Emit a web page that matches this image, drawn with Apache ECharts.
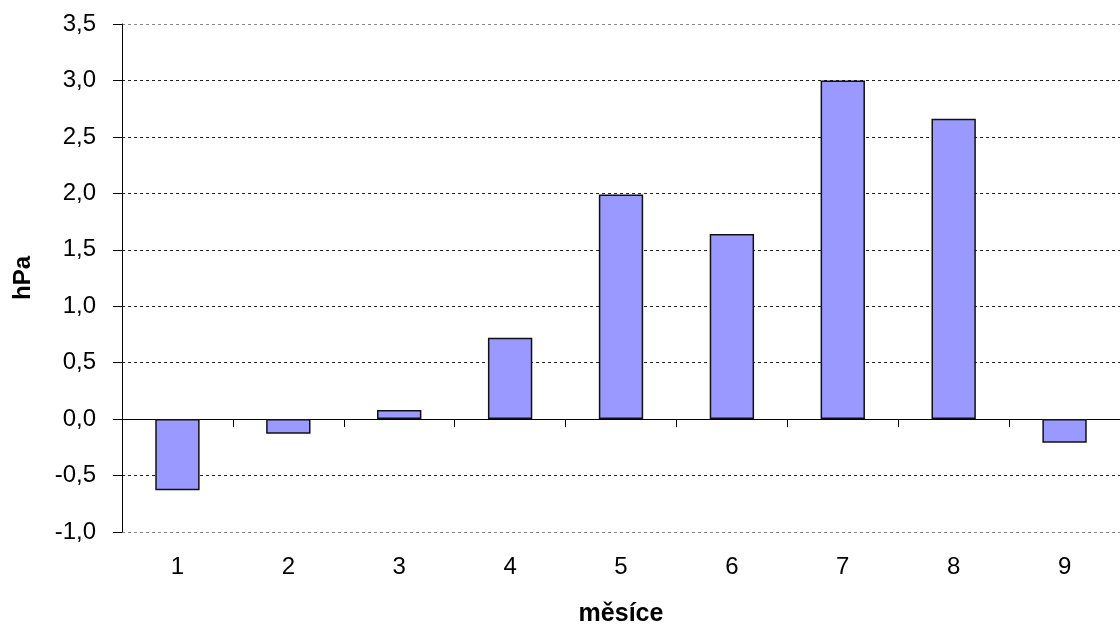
<!DOCTYPE html>
<html>
<head>
<meta charset="utf-8">
<script src="https://cdn.jsdelivr.net/npm/echarts@6/dist/echarts.min.js"></script>
<style>
html,body{margin:0;padding:0;background:#fff;}
#chart{width:1120px;height:632px;}
</style>
</head>
<body>
<div id="chart"></div>
<script>
const categories = ['1','2','3','4','5','6','7','8','9'];
const values = [-0.63, -0.13, 0.08, 0.72, 1.99, 1.64, 3.0, 2.66, -0.21];
const xName = 'měsíce';
const yName = 'hPa';

const chart = echarts.init(document.getElementById('chart'), null, {renderer:'canvas'});
const font = 'Liberation Sans, Arial, sans-serif';
chart.setOption({
  backgroundColor: '#ffffff',
  animation: false,
  grid: {left: 122, top: 24, width: 1008, bottom: 93, containLabel: false},
  xAxis: [{
    type: 'category',
    data: categories,
    position: 'bottom',
    axisLine: {onZero: true, lineStyle: {color: '#000', width: 1}},
    axisTick: {show: true, alignWithLabel: false, length: 8, inside: false, lineStyle: {color: '#000'}},
    axisLabel: {show: false},
    splitLine: {show: false}
  }, {
    type: 'category',
    data: categories,
    position: 'bottom',
    axisLine: {show: false, onZero: false},
    axisTick: {show: false},
    axisLabel: {show: true, margin: 23, color: '#000', fontSize: 24, fontFamily: font},
    name: xName,
    nameLocation: 'middle',
    nameGap: 70,
    nameTextStyle: {color: '#000', fontSize: 25, fontWeight: 'bold', fontFamily: font}
  }],
  yAxis: {
    type: 'value',
    min: -1, max: 3.5, interval: 0.5,
    axisLine: {show: true, lineStyle: {color: '#000', width: 1}},
    axisTick: {show: true, length: 9, lineStyle: {color: '#000'}},
    axisLabel: {color: '#000', fontSize: 24, fontFamily: font, margin: 26,
      formatter: v => v.toFixed(1).replace('.', ',')},
    splitLine: {show: true, lineStyle: {
      color: ['#888', '#222', '#222', '#222', '#222', '#222', '#222', '#222', '#222', '#888'],
      type: [3, 3], width: 1}},
    name: yName,
    nameLocation: 'middle',
    nameGap: 87,
    nameTextStyle: {color: '#000', fontSize: 24, fontWeight: 'bold', fontFamily: font}
  },
  series: [{
    type: 'bar',
    xAxisIndex: 0,
    data: values,
    barWidth: '40%',
    itemStyle: {color: '#9999FF', borderColor: '#111', borderWidth: 1.5}
  }]
});
</script>
</body>
</html>
